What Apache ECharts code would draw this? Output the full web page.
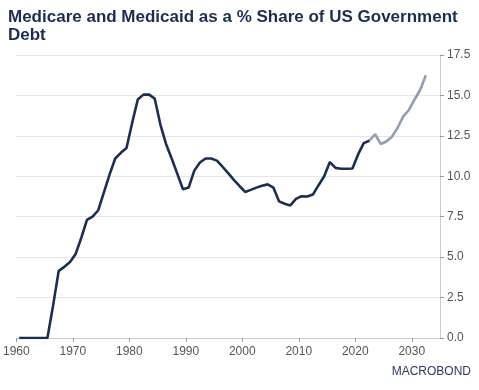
<!DOCTYPE html>
<html>
<head>
<meta charset="utf-8">
<script src="https://cdn.jsdelivr.net/npm/echarts@6/dist/echarts.min.js"></script>
<style>
html,body{margin:0;padding:0;background:#fff;}
#c{width:479px;height:390px;}
</style>
</head>
<body>
<div id="c"></div>
<script>
// Annual data, plotted at mid-year
const histYears = [1960,1961,1962,1963,1964,1965,1966,1967,1968,1969,1970,1971,1972,1973,1974,1975,1976,1977,1978,1979,1980,1981,1982,1983,1984,1985,1986,1987,1988,1989,1990,1991,1992,1993,1994,1995,1996,1997,1998,1999,2000,2001,2002,2003,2004,2005,2006,2007,2008,2009,2010,2011,2012,2013,2014,2015,2016,2017,2018,2019,2020,2021,2022];
const histValues = [0,0,0,0,0,0,2.0,4.15,4.4,4.7,5.2,6.2,7.3,7.5,7.9,9.0,10.1,11.1,11.45,11.75,13.3,14.75,15.05,15.05,14.8,13.2,12.0,11.1,10.15,9.2,9.3,10.35,10.85,11.1,11.1,10.97,10.59,10.19,9.78,9.4,9.03,9.16,9.3,9.42,9.5,9.3,8.45,8.3,8.2,8.6,8.77,8.75,8.87,9.45,10.0,10.88,10.52,10.47,10.47,10.48,11.35,12.05,12.2];
const projYears = [2022,2023,2024,2025,2026,2027,2028,2029,2030,2031,2032];
const projValues = [12.2,12.6,12.0,12.15,12.45,13.0,13.7,14.1,14.75,15.35,16.25];
const xTicks = [1960,1970,1980,1990,2000,2010,2020,2030];

const midYear = y => y + 0.5;
const chart = echarts.init(document.getElementById('c'), null, {renderer:'canvas'});
chart.setOption({
  animation:false,
  backgroundColor:'#ffffff',
  title:{
    text:'Medicare and Medicaid as a % Share of US Government\nDebt',
    left:8, top:8, padding:0,
    textStyle:{fontFamily:'Liberation Sans, Arial, sans-serif', fontSize:17, fontWeight:'bold', color:'#1c2d4f', lineHeight:18}
  },
  graphic:[{
    type:'text', right:8, top:366,
    style:{text:'MACROBOND', fontFamily:'Liberation Sans, Arial, sans-serif', fontSize:12, fill:'#2b3a5c'}
  }],
  grid:{left:14, right:39, top:55, bottom:52, containLabel:false},
  xAxis:{
    type:'value', min:1960, max:2035,
    splitLine:{show:false},
    axisLine:{show:true, lineStyle:{color:'#cccccc', width:1}},
    axisTick:{show:true, length:4, customValues:xTicks, lineStyle:{color:'#999999'}},
    axisLabel:{customValues:xTicks, formatter:v=>String(v), color:'#555555', fontSize:12, fontFamily:'Liberation Sans, Arial, sans-serif', margin:8}
  },
  yAxis:{
    type:'value', position:'right', min:0, max:17.5, interval:2.5,
    splitLine:{show:true, lineStyle:{color:'#e6e6e6', width:1}},
    axisLine:{show:true, lineStyle:{color:'#cccccc'}},
    axisTick:{show:true, length:4, lineStyle:{color:'#999999'}},
    axisLabel:{color:'#555555', fontSize:12, fontFamily:'Liberation Sans, Arial, sans-serif', margin:7, formatter:v=>v.toFixed(1)}
  },
  series:[
    {type:'line', data:histYears.map((y,i)=>[midYear(y),histValues[i]]), showSymbol:false, lineStyle:{color:'#1c2f52', width:2.6}, z:3},
    {type:'line', data:projYears.map((y,i)=>[midYear(y),projValues[i]]), showSymbol:false, lineStyle:{color:'#929cb2', width:2.6}, z:2}
  ]
});
</script>
</body>
</html>
